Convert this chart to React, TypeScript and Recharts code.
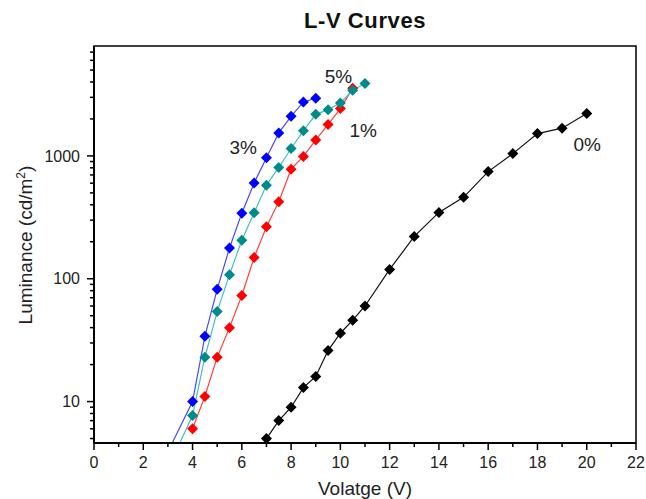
import {LineChart, Line, XAxis, YAxis, ReferenceArea, ReferenceDot} from 'recharts'

// 0% doping
const V0 = [7, 7.5, 8, 8.5, 9, 9.5, 10, 10.5, 11, 12, 13, 14, 15, 16, 17, 18, 19, 20]
const L0 = [5, 7, 9, 13, 16, 26, 36, 46, 60, 119, 221, 347, 460, 745, 1044, 1520, 1683, 2215]
// 1%
const V1 = [4, 4.5, 5, 5.5, 6, 6.5, 7, 7.5, 8, 8.5, 9, 9.5, 10, 10.5]
const L1 = [6, 11, 23, 40, 73, 149, 265, 423, 780, 990, 1350, 1800, 2430, 3550]
// 3%
const V3 = [3, 4, 4.5, 5, 5.5, 6, 6.5, 7, 7.5, 8, 8.5, 9]
const L3 = [3.9, 10, 34, 82, 178, 342, 603, 965, 1540, 2100, 2750, 2950]
// 5%
const V5 = [3, 4, 4.5, 5, 5.5, 6, 6.5, 7, 7.5, 8, 8.5, 9, 9.5, 10, 10.5, 11]
const L5 = [2.85, 7.7, 23, 54, 108, 206, 344, 578, 805, 1150, 1600, 2180, 2380, 2700, 3420, 3880]

const X_TICKS = Array.from({length: 23}, (_, i) => i)
const X_LABELS = [0, 2, 4, 6, 8, 10, 12, 14, 16, 18, 20, 22]
const Y_TICKS = [5, 6, 7, 8, 9, 10, 20, 30, 40, 50, 60, 70, 80, 90, 100, 200, 300, 400, 500, 600, 700, 800, 900, 1000, 2000, 3000, 4000, 5000, 6000, 7000]
const Y_LABELS = [10, 100, 1000]
const Y_DOMAIN = [4.6, 7850]

const LABELS = [
  {text: '5%', v: 9.92, l: 4450},
  {text: '3%', v: 6.06, l: 1170},
  {text: '1%', v: 10.93, l: 1620},
  {text: '0%', v: 20.02, l: 1245},
]

const FONT = '"Liberation Sans", Arial, sans-serif'

const toRows = (vs: number[], ls: number[]) => vs.map((v, i) => ({v, l: ls[i]}))

const diamond = (fill: string, r: number) => (p: any) => {
  const {cx, cy, index} = p
  if (cx == null || cy == null) return <g key={index} />
  return <path key={index} d={`M${cx},${cy - r}L${cx + r},${cy}L${cx},${cy + r}L${cx - r},${cy}Z`} fill={fill} />
}

const XTick = (p: any) => {
  const {x, y, payload} = p
  const major = X_LABELS.includes(payload.value)
  return (
    <g>
      <line x1={x} x2={x} y1={y} y2={y + (major ? 7 : 4)} stroke="#000" strokeWidth={1.5} />
      {major && <text x={x} y={y + 25} textAnchor="middle" fontSize={16} fontFamily={FONT} fill="#222">{payload.value}</text>}
    </g>
  )
}

const YTick = (p: any) => {
  const {x, y, payload} = p
  const major = Y_LABELS.includes(payload.value)
  return (
    <g>
      <line x1={x - (major ? 7 : 4)} x2={x} y1={y} y2={y} stroke="#000" strokeWidth={1.5} />
      {major && <text x={x - 14} y={y} dy="0.35em" textAnchor="end" fontSize={16} fontFamily={FONT} fill="#222">{payload.value}</text>}
    </g>
  )
}

const SERIES = [
  {name: '0%', rows: toRows(V0, L0), line: '#111', dot: '#000'},
  {name: '1%', rows: toRows(V1, L1), line: '#ff4040', dot: '#ff0000'},
  {name: '3%', rows: toRows(V3, L3), line: '#4848ff', dot: '#0000ff'},
  {name: '5%', rows: toRows(V5, L5), line: '#40c0c0', dot: '#008b8b'},
]

export default function App() {
  return (
    <div style={{position: 'absolute', left: 0, top: 0, width: 646, height: 499, background: '#fff'}}>
      <LineChart width={646} height={499} margin={{top: 46, right: 10, bottom: 16, left: 34}}>
        <XAxis
          type="number"
          dataKey="v"
          domain={[0, 22]}
          ticks={X_TICKS}
          interval={0}
          tickSize={0}
          tickMargin={0}
          tickLine={false}
          tick={<XTick />}
          height={40}
          axisLine={{stroke: '#000', strokeWidth: 2}}
        />
        <YAxis
          type="number"
          dataKey="l"
          scale="log"
          domain={Y_DOMAIN}
          allowDataOverflow
          ticks={Y_TICKS}
          interval={0}
          tickSize={0}
          tickMargin={0}
          tickLine={false}
          tick={<YTick />}
          width={60}
          axisLine={{stroke: '#000', strokeWidth: 2}}
        />
        <ReferenceArea x1={0} x2={22} y1={Y_DOMAIN[0]} y2={Y_DOMAIN[1]} fill="none" stroke="#000" strokeWidth={1.5} />
        {SERIES.map((s) => (
          <Line
            key={s.name}
            data={s.rows}
            dataKey="l"
            type="linear"
            stroke={s.line}
            strokeWidth={1.2}
            dot={diamond(s.dot, 5.5)}
            activeDot={false}
            isAnimationActive={false}
          />
        ))}
        {LABELS.map((a) => (
          <ReferenceDot
            key={a.text}
            x={a.v}
            y={a.l}
            r={0}
            stroke="none"
            label={{value: a.text, position: 'center', fontSize: 19, fill: '#222', fontFamily: FONT}}
          />
        ))}
      </LineChart>
      <svg width={646} height={499} style={{position: 'absolute', left: 0, top: 0, pointerEvents: 'none'}}>
        <text x={365} y={28} textAnchor="middle" fontSize={22} letterSpacing={0.6} fontWeight="bold" fontFamily={FONT} fill="#111">L-V Curves</text>
        <text x={365} y={495} textAnchor="middle" fontSize={19} fontFamily={FONT} fill="#222">Volatge (V)</text>
        <text transform="translate(32,245) rotate(-90)" textAnchor="middle" fontSize={19} fontFamily={FONT} fill="#222">
          Luminance (cd/m<tspan dy={-7} fontSize={12}>2</tspan><tspan dy={7}>)</tspan>
        </text>
      </svg>
    </div>
  )
}
